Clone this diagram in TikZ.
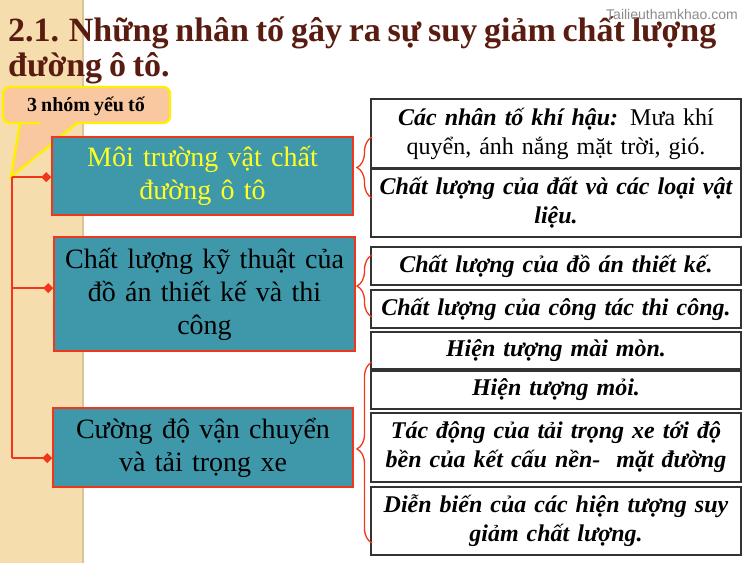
\documentclass[tikz,border=0pt]{standalone}
\usepackage{fontspec}
\setmainfont[WordSpace=0.8]{Liberation Serif}
\setsansfont{Liberation Sans}
\usetikzlibrary{arrows.meta,decorations.pathreplacing}
\definecolor{titlebrown}{HTML}{5A1C10}
\definecolor{beige}{HTML}{F6DDAE}
\definecolor{beigedark}{HTML}{D9C49A}
\definecolor{tealfill}{HTML}{3E98AA}
\definecolor{redline}{HTML}{F2361C}
\definecolor{peach}{HTML}{FAC8A0}
\definecolor{calloutborder}{HTML}{FFF000}
\definecolor{txtyellow}{HTML}{FFFF22}
\begin{document}
\begin{tikzpicture}[x=1pt,y=-1pt,
  mainbox/.style={draw=redline, line width=1.5pt, fill=tealfill, align=center,
    inner sep=0pt, text width=298pt, font=\fontsize{28}{33}\selectfont},
  itembox/.style={draw=black!80, line width=1.4pt, fill=white, align=center,
    inner sep=0pt, minimum width=370pt, text width=368pt,
    font=\bfseries\itshape\fontsize{24}{29}\selectfont},
  redconn/.style={draw=redline, line width=2.2pt},
  diamondtip/.style={redconn, -{Diamond[length=10pt,width=10pt]}},
  bracestyle/.style={draw=redline, line width=1.3pt,
    decorate, decoration={brace, amplitude=15pt, aspect=0.5}},
  titletext/.style={anchor=base west, inner sep=0pt, text=titlebrown,
    font=\bfseries\fontsize{34}{36}\selectfont}
]
\useasboundingbox (0,0) rectangle (750,563);
\fill[white] (0,0) rectangle (750,563);
\fill[beige] (0,0) rectangle (82,563);
\fill[beigedark] (82,0) rectangle (84,563);

% title
\node[titletext] (t1) at (8,41) {2.1. Những nhân tố gây ra sự suy giảm chất lượng};
\node[titletext] (t2) at (8,76) {đường ô tô.};
\node[anchor=base west, inner sep=0pt, text=black!45,
  font=\sffamily\fontsize{14}{16}\selectfont] (wm) at (606,19) {Tailieuthamkhao.com};

% callout
\draw[draw=calloutborder, line width=2.4pt, fill=peach]
  (40,123) [rounded corners=7] -- (3,123) -- (3,87) -- (170,87) -- (170,123)
  [sharp corners] -- (77,123) -- (11,177) -- (20,123) -- cycle;
\node[inner sep=0pt, font=\bfseries\fontsize{20}{22}\selectfont] (call) at (86,106) {3 nhóm yếu tố};

% main boxes
\node[mainbox, text=txtyellow, minimum width=301pt, minimum height=78pt] (b1) at (202.5,176)
  {Môi trường vật chất\\ đường ô tô};
\node[mainbox, minimum width=301pt, minimum height=114pt] (b2) at (204.5,294)
  {Chất lượng kỹ thuật của\\ đồ án thiết kế và thi\\ công};
\node[mainbox, minimum width=300pt, minimum height=79pt] (b3) at (203,447.5)
  {Cường độ vận chuyển\\ và tải trọng xe};

% connectors
\coordinate (j1) at (12,177);
\coordinate (j2) at (12,288);
\coordinate (j3) at (12,458);
\draw[redconn] (j1) -- (j3);
\draw[diamondtip] (j1) -- (j1 -| b1.west);
\draw[diamondtip] (j2) -- (j2 -| b2.west);
\draw[diamondtip] (j3) -- (j3 -| b3.west);

% item boxes
\node[itembox, minimum height=69pt] (r1) at (556,133.5)
  {Các nhân tố khí hậu: \normalfont\fontsize{24}{29}\selectfont Mưa khí\\ quyển, ánh nắng mặt trời, gió.};
\node[itembox, minimum height=68pt] (r2) at (556,203)
  {Chất lượng của đất và các loại vật\\ liệu.};
\node[itembox, minimum height=38pt] (r3) at (556,266) {Chất lượng của đồ án thiết kế.};
\node[itembox, minimum height=38pt] (r4) at (556,309) {Chất lượng của công tác thi công.};
\node[itembox, minimum height=37pt] (r5) at (556,350.5) {Hiện tượng mài mòn.};
\node[itembox, minimum height=38pt] (r6) at (556,390) {Hiện tượng mỏi.};
\node[itembox, minimum height=69pt] (r7) at (556,447.5)
  {Tác động của tải trọng xe tới độ\\ bền của kết cấu nền-\ \ mặt đường};
\node[itembox, minimum height=68pt] (r8) at (556,521)
  {Diễn biến của các hiện tượng suy\\ giảm chất lượng.};

% braces
\coordinate (br1t) at (372,137);
\coordinate (br1b) at (372,198);
\coordinate (br2t) at (372,255);
\coordinate (br2b) at (372,317);
\coordinate (br3t) at (372,362);
\coordinate (br3b) at (372,543);
\draw[bracestyle] (br1b) -- (br1t);
\draw[bracestyle] (br2b) -- (br2t);
\draw[bracestyle, decoration={brace, amplitude=15pt, aspect=0.52}] (br3b) -- (br3t);
\end{tikzpicture}
\end{document}
